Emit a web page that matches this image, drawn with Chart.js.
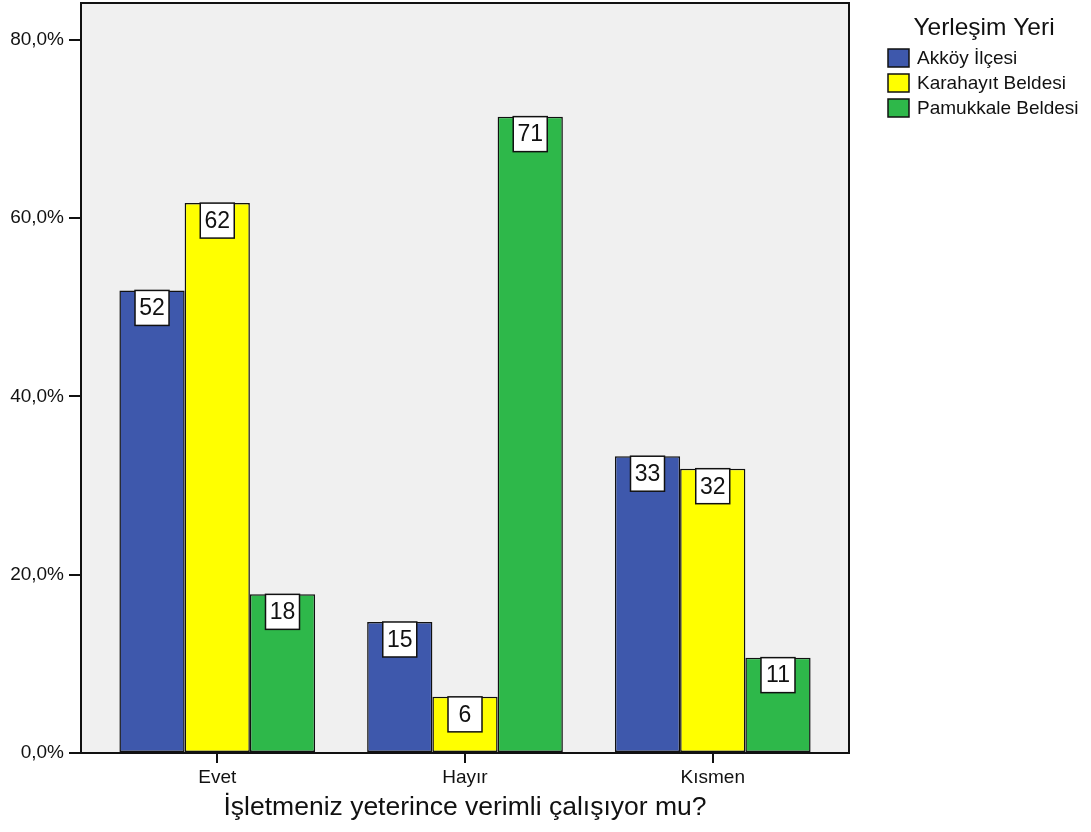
<!DOCTYPE html>
<html><head><meta charset="utf-8">
<script src="https://cdn.jsdelivr.net/npm/chart.js@4/dist/chart.umd.min.js"></script>
<style>html,body{margin:0;padding:0;background:#fff}#wrap{width:1091px;height:832px}</style>
</head><body><div id="wrap"><canvas id="c" width="1091" height="832"></canvas></div>
<script>
const categories = ['Evet', 'Hayır', 'Kısmen'];
const seriesNames = ['Akköy İlçesi', 'Karahayıt Beldesi', 'Pamukkale Beldesi'];
const akkoy = [51.9, 14.7, 33.3];
const karahayit = [61.7, 6.3, 31.9];
const pamukkale = [17.8, 71.4, 10.7];
const yTicks = [0, 20, 40, 60, 80];
const legendTitle = 'Yerleşim Yeri';
const xTitle = 'İşletmeniz yeterince verimli çalışıyor mu?';

const colors = ['#3E58AC', '#FFFF00', '#2EB84A'];
const FONT = "'Liberation Sans', Arial, sans-serif";
const series = [akkoy, karahayit, pamukkale];

const datasets = series.map((vals, i) => ({
  label: seriesNames[i],
  data: vals.map((v, j) => ({x: j, y: v})),
  backgroundColor: colors[i],
  borderColor: '#111',
  borderWidth: 1.5,
  borderSkipped: false,
  categoryPercentage: 0.79,
  barPercentage: 1.0
}));

const frame = {
  id: 'frame',
  beforeDraw(chart) {
    const {ctx, chartArea: a} = chart;
    ctx.save();
    ctx.fillStyle = '#F0F0F0';
    ctx.fillRect(a.left, a.top, a.right - a.left, a.bottom - a.top);
    ctx.restore();
  },
  afterDatasetsDraw(chart) {
    const {ctx} = chart;
    ctx.save();
    chart.data.datasets.forEach((ds, di) => {
      chart.getDatasetMeta(di).data.forEach((el, i) => {
        const v = Math.round(ds.data[i].y);
        const w = 34, h = 35;
        const x = el.x - w / 2, y = el.y;
        ctx.fillStyle = '#fff';
        ctx.fillRect(x, y, w, h);
        ctx.strokeStyle = '#111';
        ctx.lineWidth = 1.5;
        ctx.strokeRect(x, y, w, h);
        ctx.fillStyle = '#111';
        ctx.font = '23px ' + FONT;
        ctx.textAlign = 'center';
        ctx.textBaseline = 'middle';
        ctx.fillText(String(v), el.x, y + h / 2 + 1);
      });
    });
    ctx.restore();
  },
  afterDraw(chart) {
    const {ctx, chartArea: a} = chart;
    ctx.save();
    ctx.strokeStyle = '#111';
    ctx.lineWidth = 2;
    ctx.strokeRect(a.left, a.top, a.right - a.left, a.bottom - a.top);
    // legend
    ctx.fillStyle = '#111';
    ctx.font = '24.5px ' + FONT;
    ctx.textAlign = 'center';
    ctx.textBaseline = 'middle';
    ctx.fillText(legendTitle, 984, 28);
    ctx.textAlign = 'left';
    ctx.font = '19px ' + FONT;
    chart.data.datasets.forEach((ds, i) => {
      const y = 49 + i * 25;
      ctx.fillStyle = ds.backgroundColor;
      ctx.fillRect(888, y, 21, 18);
      ctx.strokeStyle = '#111';
      ctx.lineWidth = 1.5;
      ctx.strokeRect(888, y, 21, 18);
      ctx.fillStyle = '#111';
      ctx.fillText(ds.label, 917, y + 10);
    });
    ctx.restore();
  }
};

new Chart(document.getElementById('c'), {
  type: 'bar',
  data: {datasets},
  plugins: [frame],
  options: {
    responsive: false,
    animation: false,
    layout: {padding: {top: 3, right: 242, left: 0, bottom: 0}},
    plugins: {legend: {display: false}, tooltip: {enabled: false}},
    scales: {
      x: {
        type: 'linear',
        offset: false,
        min: -0.55,
        max: 2.55,
        afterBuildTicks(s) { s.ticks = categories.map((c, i) => ({value: i})); },
        afterFit(s) { s.height = 79; s.paddingLeft = 0; s.paddingRight = 0; },
        grid: {display: true, offset: false, drawOnChartArea: false, drawTicks: true, tickLength: 10, color: '#111', lineWidth: 2},
        border: {display: true, color: '#111', width: 2},
        ticks: {
          autoSkip: false, maxRotation: 0, padding: 3,
          color: '#111', font: {family: FONT, size: 19},
          callback: (v) => categories[v] ?? ''
        },
        title: {display: true, text: xTitle, color: '#111', font: {family: FONT, size: 26.5, lineHeight: 1}, padding: {top: 0, bottom: 11}}
      },
      y: {
        min: 0,
        max: 84.15,
        afterBuildTicks(s) { s.ticks = yTicks.map(v => ({value: v})); },
        afterFit(s) { s.width = 81; s.paddingTop = 0; s.paddingBottom = 0; },
        grid: {display: true, drawOnChartArea: false, drawTicks: true, tickLength: 12, color: '#111', lineWidth: 2},
        border: {display: true, color: '#111', width: 2},
        ticks: {
          padding: 5, color: '#111', font: {family: FONT, size: 19},
          callback: (v) => v.toFixed(1).replace('.', ',') + '%'
        }
      }
    }
  }
});
</script></body></html>
